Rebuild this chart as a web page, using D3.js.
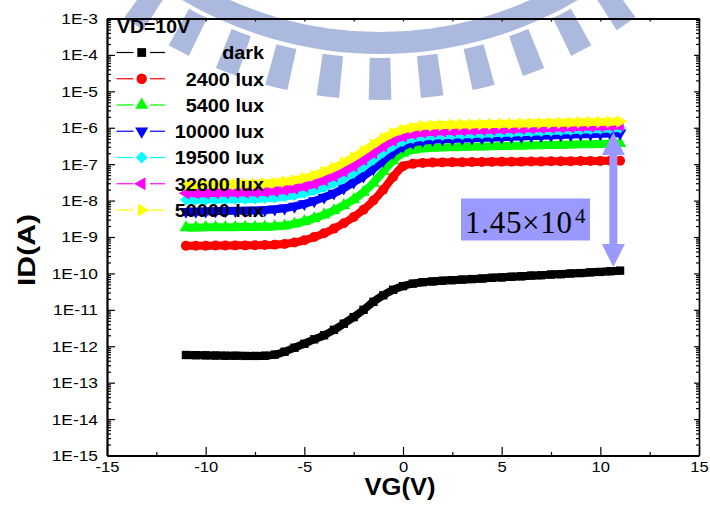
<!DOCTYPE html>
<html><head><meta charset="utf-8">
<script src="https://cdn.jsdelivr.net/npm/d3@7"></script>
<style>body{margin:0;background:#fff}</style>
</head><body>
<svg id="c" width="710" height="511" xmlns="http://www.w3.org/2000/svg"></svg>
<script>
// ---------- data ----------
const VG = [-11,-10.5,-10,-9.5,-9,-8.5,-8,-7.5,-7,-6.5,-6,-5.5,-5,-4.5,-4,-3.5,-3,-2.5,-2,-1.5,-1,-0.5,0,0.5,1,1.5,2,2.5,3,3.5,4,4.5,5,5.5,6,6.5,7,7.5,8,8.5,9,9.5,10,10.5,11];
const idDark = [5.75e-13,5.69e-13,5.62e-13,5.56e-13,5.50e-13,5.50e-13,5.43e-13,5.43e-13,5.50e-13,5.89e-13,7.08e-13,9.12e-13,1.17e-12,1.55e-12,2.00e-12,2.82e-12,4.17e-12,6.31e-12,1.00e-11,1.66e-11,2.51e-11,3.55e-11,4.47e-11,5.25e-11,5.75e-11,6.03e-11,6.31e-11,6.53e-11,6.76e-11,7.00e-11,7.24e-11,7.59e-11,7.76e-11,8.13e-11,8.32e-11,8.71e-11,8.91e-11,9.33e-11,9.55e-11,1.00e-10,1.02e-10,1.07e-10,1.10e-10,1.15e-10,1.19e-10];
const id2400 = [5.75e-10,5.75e-10,5.75e-10,5.82e-10,5.82e-10,5.89e-10,5.89e-10,5.96e-10,6.03e-10,6.17e-10,6.46e-10,7.08e-10,8.13e-10,1.00e-9,1.26e-9,1.70e-9,2.40e-9,3.55e-9,5.62e-9,1.00e-8,2.00e-8,4.47e-8,8.71e-8,1.02e-7,1.08e-7,1.11e-7,1.12e-7,1.13e-7,1.135e-7,1.14e-7,1.15e-7,1.156e-7,1.16e-7,1.17e-7,1.175e-7,1.18e-7,1.19e-7,1.197e-7,1.20e-7,1.21e-7,1.216e-7,1.22e-7,1.23e-7,1.24e-7,1.245e-7];
const id5400 = [1.82e-9,1.82e-9,1.84e-9,1.84e-9,1.86e-9,1.86e-9,1.88e-9,1.88e-9,1.91e-9,1.95e-9,2.04e-9,2.29e-9,2.69e-9,3.24e-9,4.07e-9,5.37e-9,7.41e-9,1.07e-8,1.70e-8,3.02e-8,6.31e-8,1.26e-7,2.00e-7,2.45e-7,2.69e-7,2.82e-7,2.88e-7,2.92e-7,2.96e-7,3.01e-7,3.05e-7,3.09e-7,3.13e-7,3.18e-7,3.22e-7,3.27e-7,3.31e-7,3.36e-7,3.40e-7,3.45e-7,3.50e-7,3.55e-7,3.60e-7,3.65e-7,3.72e-7];
const id10000 = [5.01e-9,5.01e-9,5.07e-9,5.13e-9,5.19e-9,5.25e-9,5.31e-9,5.37e-9,5.50e-9,5.75e-9,6.17e-9,6.92e-9,8.13e-9,9.77e-9,1.23e-8,1.58e-8,2.19e-8,3.16e-8,4.68e-8,7.41e-8,1.26e-7,2.09e-7,3.09e-7,3.89e-7,4.37e-7,4.68e-7,4.84e-7,4.94e-7,5.05e-7,5.15e-7,5.26e-7,5.37e-7,5.50e-7,5.62e-7,5.75e-7,5.89e-7,6.03e-7,6.17e-7,6.31e-7,6.46e-7,6.61e-7,6.68e-7,6.79e-7,6.92e-7,7.08e-7];
const id19500 = [1.05e-8,1.05e-8,1.06e-8,1.07e-8,1.08e-8,1.10e-8,1.11e-8,1.12e-8,1.15e-8,1.20e-8,1.29e-8,1.41e-8,1.62e-8,1.91e-8,2.34e-8,3.02e-8,4.07e-8,5.75e-8,8.51e-8,1.32e-7,2.09e-7,3.16e-7,4.27e-7,5.13e-7,5.69e-7,6.03e-7,6.24e-7,6.40e-7,6.56e-7,6.73e-7,6.89e-7,7.06e-7,7.24e-7,7.41e-7,7.59e-7,7.80e-7,8.00e-7,8.20e-7,8.41e-7,8.63e-7,8.85e-7,9.06e-7,9.29e-7,9.53e-7,9.77e-7];
const id32600 = [1.58e-8,1.58e-8,1.60e-8,1.62e-8,1.64e-8,1.66e-8,1.68e-8,1.70e-8,1.74e-8,1.82e-8,1.95e-8,2.14e-8,2.45e-8,2.88e-8,3.63e-8,4.68e-8,6.31e-8,8.91e-8,1.32e-7,2.04e-7,3.09e-7,4.47e-7,5.75e-7,6.76e-7,7.41e-7,7.76e-7,8.04e-7,8.20e-7,8.36e-7,8.53e-7,8.71e-7,8.87e-7,9.06e-7,9.23e-7,9.42e-7,9.62e-7,9.79e-7,1.00e-6,1.02e-6,1.04e-6,1.06e-6,1.08e-6,1.10e-6,1.12e-6,1.15e-6];
const id50000 = [2.69e-8,2.69e-8,2.72e-8,2.75e-8,2.79e-8,2.82e-8,2.85e-8,2.88e-8,2.95e-8,3.09e-8,3.31e-8,3.63e-8,4.17e-8,4.90e-8,6.17e-8,7.94e-8,1.10e-7,1.55e-7,2.29e-7,3.47e-7,5.13e-7,7.08e-7,8.91e-7,1.02e-6,1.11e-6,1.16e-6,1.19e-6,1.20e-6,1.22e-6,1.23e-6,1.25e-6,1.26e-6,1.28e-6,1.29e-6,1.31e-6,1.33e-6,1.34e-6,1.36e-6,1.37e-6,1.39e-6,1.41e-6,1.43e-6,1.44e-6,1.46e-6,1.48e-6];
const seriesLabels = ["dark","2400 lux","5400 lux","10000 lux","19500 lux","32600 lux","50000 lux"];
const seriesColors = ["#000000","#ff0000","#00ff00","#0000ff","#00ffff","#ff00ff","#ffff00"];
const seriesShapes = ["square","circle","up","down","diamond","left","right"];
const xTickValues = [-15,-10,-5,0,5,10,15];
const xMinorValues = [-12.5,-7.5,-2.5,2.5,7.5,12.5];
const yTickValues = [1e-15,1e-14,1e-13,1e-12,1e-11,1e-10,1e-9,1e-8,1e-7,1e-6,1e-5,1e-4,1e-3];
const legendTitle = "VD=10V";
const xTitle = "VG(V)", yTitle = "ID(A)";
const ratioMantissa = "1.45\u00d710", ratioExponent = "4";
// annotation arrow (data units)
const arrowVG = 10.66, arrowTopI = 7.7e-7, arrowBottomI = 1.5e-10;

// ---------- layout ----------
const L = 107, R = 699, T = 18.5, B = 455.5;
const svg = d3.select("#c");
const x = d3.scaleLinear().domain([-15, 15]).range([L, R]);
const y = d3.scaleLog().domain([1e-15, 1e-3]).range([B, T]);
const SANS = "'Liberation Sans', Arial, Helvetica, sans-serif";
const SERIF = "'Liberation Serif', 'Times New Roman', serif";

function stretch(sel, f) {
  sel.each(function () {
    const w = this.getComputedTextLength();
    d3.select(this).attr("textLength", w * f).attr("lengthAdjust", "spacingAndGlyphs");
  });
}

// ---------- watermark (decorative logo) ----------
const wm = svg.append("g").attr("fill", "#98a8d8").attr("opacity", 0.8)
  .attr("transform", "translate(380,-336)");
wm.append("path").attr("d", d3.arc()({innerRadius: 368, outerRadius: 390, startAngle: Math.PI - 0.56, endAngle: Math.PI + 0.56}));
[-0.6,-0.48,-0.36,-0.24,-0.12,0,0.12,0.24,0.36,0.48,0.6].forEach(a => {
  wm.append("path").attr("d", d3.arc()({innerRadius: 394, outerRadius: 436, startAngle: Math.PI + a - 0.026, endAngle: Math.PI + a + 0.026}));
});

// ---------- curves ----------
const allSeries = [idDark, id2400, id5400, id10000, id19500, id32600, id50000];
function symbolPath(shape, big) {
  const s = big ? 1.1 : 1;
  switch (shape) {
    case "square": return {d: d3.symbol(d3.symbolSquare, 70 * s)(), rot: 0};
    case "circle": return {d: d3.symbol(d3.symbolCircle, 78 * s)(), rot: 0};
    case "diamond": return {d: d3.symbol(d3.symbolSquare, 66 * s)(), rot: 45};
    case "up": return {d: d3.symbol(d3.symbolTriangle, 68 * s)(), rot: 0};
    case "down": return {d: d3.symbol(d3.symbolTriangle, 68 * s)(), rot: 180};
    case "left": return {d: d3.symbol(d3.symbolTriangle, 68 * s)(), rot: -90};
    case "right": return {d: d3.symbol(d3.symbolTriangle, 68 * s)(), rot: 90};
  }
}
const line = d3.line().x((d, i) => x(VG[i])).y(d => y(d)).curve(d3.curveMonotoneX);
const plot = svg.append("g");
allSeries.forEach((vals, k) => {
  const g = plot.append("g");
  g.append("path").attr("d", line(vals)).attr("fill", "none")
    .attr("stroke", seriesColors[k]).attr("stroke-width", 8).attr("stroke-linejoin", "round");
  const sp = symbolPath(seriesShapes[k], false);
  g.selectAll("path.m").data(vals).join("path").attr("class", "m")
    .attr("d", sp.d).attr("fill", seriesColors[k])
    .attr("transform", (d, i) => `translate(${x(VG[i])},${y(d)}) rotate(${sp.rot})`);
});

// ---------- axes ----------
const axisStyle = g => {
  g.selectAll("path.domain").attr("stroke", "#000");
  g.selectAll(".tick line").attr("stroke", "#000").attr("stroke-width", 1.2);
};
const yMinor = [];
yTickValues.slice(0, -1).forEach(v => { for (let m = 2; m <= 9; m++) yMinor.push(v * m); });

// left
svg.append("g").attr("transform", `translate(${L},0)`)
  .call(d3.axisLeft(y).tickValues(yMinor).tickSizeInner(-4).tickSizeOuter(0).tickFormat(""))
  .call(axisStyle).call(g => g.select(".domain").remove());
const yAx = svg.append("g").attr("transform", `translate(${L},0)`)
  .call(d3.axisLeft(y).tickValues(yTickValues).tickSizeInner(-8).tickSizeOuter(0).tickPadding(9)
    .tickFormat(d => "1E" + Math.round(Math.log10(d))))
  .call(axisStyle);
yAx.select(".domain").attr("stroke-width", 2.2);
yAx.selectAll("text").attr("font-family", SANS).attr("font-size", 15.5).attr("fill", "#000").call(stretch, 1.12);

// right
svg.append("g").attr("transform", `translate(${R},0)`)
  .call(d3.axisRight(y).tickValues(yMinor).tickSizeInner(-3).tickSizeOuter(0).tickFormat(""))
  .call(axisStyle).call(g => g.select(".domain").remove());
svg.append("g").attr("transform", `translate(${R},0)`)
  .call(d3.axisRight(y).tickValues(yTickValues).tickSizeInner(-5).tickSizeOuter(0).tickFormat(""))
  .call(axisStyle).select(".domain").attr("stroke-width", 1.6);

// bottom
svg.append("g").attr("transform", `translate(0,${B})`)
  .call(d3.axisBottom(x).tickValues(xMinorValues).tickSizeInner(-3.5).tickSizeOuter(0).tickFormat(""))
  .call(axisStyle).call(g => g.select(".domain").remove());
const xAx = svg.append("g").attr("transform", `translate(0,${B})`)
  .call(d3.axisBottom(x).tickValues(xTickValues).tickSizeInner(-8.5).tickSizeOuter(0).tickPadding(5)
    .tickFormat(d => String(d)))
  .call(axisStyle);
xAx.select(".domain").attr("stroke-width", 2.2);
xAx.selectAll("text").attr("font-family", SANS).attr("font-size", 15.5).attr("fill", "#000").call(stretch, 1.07);

// top
svg.append("g").attr("transform", `translate(0,${T})`)
  .call(d3.axisTop(x).tickValues(xTickValues.concat(xMinorValues)).tickSizeInner(-3).tickSizeOuter(0).tickFormat(""))
  .call(axisStyle).select(".domain").attr("stroke-width", 2);

// axis titles
svg.append("text").attr("x", 400).attr("y", 495).attr("text-anchor", "middle")
  .attr("font-family", SANS).attr("font-weight", "bold").attr("font-size", 23)
  .attr("textLength", 71).attr("lengthAdjust", "spacingAndGlyphs").text(xTitle);
svg.append("text").attr("transform", "translate(35,250) rotate(-90)").attr("text-anchor", "middle")
  .attr("font-family", SANS).attr("font-weight", "bold").attr("font-size", 23)
  .attr("textLength", 72).attr("lengthAdjust", "spacingAndGlyphs").text(yTitle);

// ---------- legend ----------
const lg = svg.append("g");
lg.append("text").attr("x", 117).attr("y", 33).attr("font-family", SANS).attr("font-weight", "bold")
  .attr("font-size", 18.5).text(legendTitle).call(stretch, 1.05);
seriesLabels.forEach((lab, k) => {
  const cy = 52.5 + k * 26.25;
  lg.append("line").attr("x1", 116.5).attr("x2", 133.5).attr("y1", cy).attr("y2", cy)
    .attr("stroke", seriesColors[k]).attr("stroke-width", 1.2);
  lg.append("line").attr("x1", 150).attr("x2", 165).attr("y1", cy).attr("y2", cy)
    .attr("stroke", seriesColors[k]).attr("stroke-width", 1.2);
  const sp = symbolPath(seriesShapes[k], true);
  lg.append("path").attr("d", sp.d).attr("fill", seriesColors[k])
    .attr("transform", `translate(141.7,${cy}) rotate(${sp.rot})`);
  lg.append("text").attr("x", 264).attr("y", cy + 6.8).attr("text-anchor", "end")
    .attr("font-family", SANS).attr("font-weight", "bold").attr("font-size", 18.5)
    .text(lab).call(stretch, 1.07);
});

// ---------- annotation ----------
const ax = x(arrowVG), yTop = y(arrowTopI), yBot = y(arrowBottomI);
const hw = 11.5, hl = 23, sw = 4;
svg.append("path").attr("fill", "#9999ff").attr("d",
  `M${ax},${yTop} L${ax + hw},${yTop + hl} L${ax + sw},${yTop + hl} L${ax + sw},${yBot - hl} L${ax + hw},${yBot - hl}
   L${ax},${yBot} L${ax - hw},${yBot - hl} L${ax - sw},${yBot - hl} L${ax - sw},${yTop + hl} L${ax - hw},${yTop + hl} Z`);
svg.append("rect").attr("x", 461).attr("y", 198.5).attr("width", 129).attr("height", 42).attr("fill", "#9999ff");
svg.append("text").attr("x", 465).attr("y", 232.5).attr("font-family", SERIF).attr("font-size", 31)
  .attr("fill", "#000").attr("textLength", 107).attr("lengthAdjust", "spacing").text(ratioMantissa);
svg.append("text").attr("x", 575).attr("y", 223).attr("font-family", SERIF).attr("font-size", 21)
  .attr("fill", "#000").text(ratioExponent);
</script>
</body></html>
